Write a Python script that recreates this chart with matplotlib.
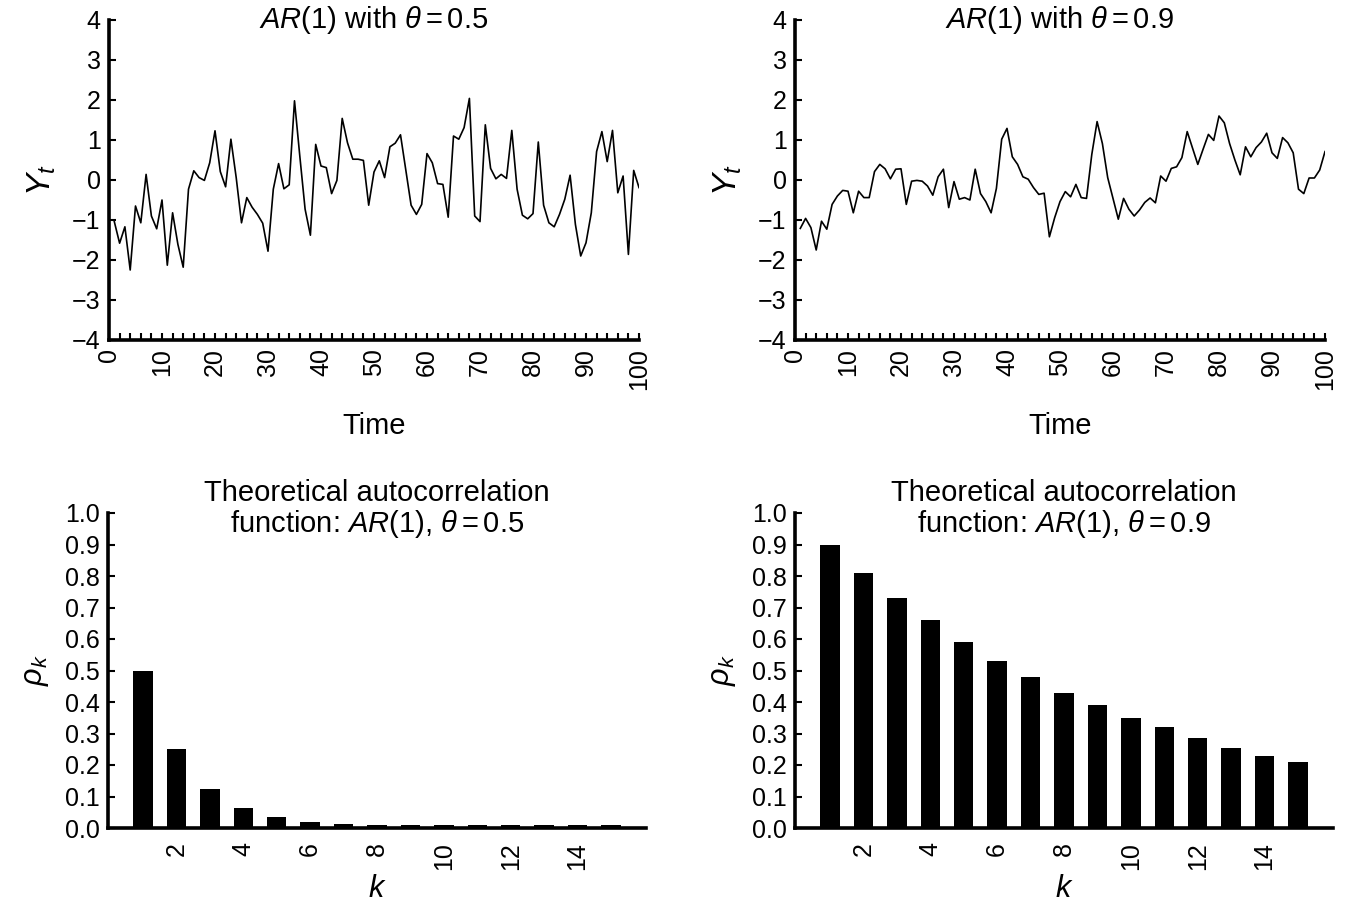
import matplotlib
matplotlib.use("Agg")
import matplotlib.pyplot as plt
import numpy as np

plt.rcParams['font.family'] = ['Liberation Sans', 'DejaVu Sans']
plt.rcParams['mathtext.fontset'] = 'custom'
plt.rcParams['mathtext.rm'] = 'Liberation Sans'
plt.rcParams['mathtext.it'] = 'Liberation Sans:italic'
plt.rcParams['mathtext.bf'] = 'Liberation Sans:bold'

# ---- data ----
time = list(range(1, 101))
y_theta05 = [-1.04, -1.58, -1.17, -2.25, -0.65, -1.07, 0.14, -0.90, -1.22, -0.50,
             -2.13, -0.82, -1.61, -2.18, -0.23, 0.23, 0.06, -0.01, 0.43, 1.23,
             0.21, -0.17, 1.02, 0.06, -1.07, -0.44, -0.68, -0.86, -1.08, -1.78,
             -0.23, 0.41, -0.22, -0.12, 1.98, 0.60, -0.73, -1.38, 0.89, 0.35,
             0.31, -0.34, -0.01, 1.54, 0.93, 0.52, 0.52, 0.49, -0.63, 0.20,
             0.48, 0.06, 0.83, 0.92, 1.13, 0.25, -0.63, -0.86, -0.61, 0.66,
             0.43, -0.09, -0.11, -0.93, 1.10, 1.02, 1.31, 2.04, -0.90, -1.04,
             1.38, 0.29, 0.03, 0.14, 0.04, 1.24, -0.23, -0.88, -0.97, -0.84,
             0.95, -0.63, -1.07, -1.17, -0.86, -0.48, 0.12, -1.11, -1.90, -1.57,
             -0.82, 0.71, 1.21, 0.46, 1.24, -0.32, 0.10, -1.86, 0.24, -0.19]
y_theta09 = [-1.21, -0.96, -1.19, -1.75, -1.03, -1.23, -0.61, -0.40, -0.26, -0.28,
             -0.82, -0.28, -0.44, -0.44, 0.21, 0.39, 0.28, 0.03, 0.27, 0.28,
             -0.61, -0.03, -0.01, -0.03, -0.15, -0.38, 0.08, 0.27, -0.69, -0.04,
             -0.48, -0.44, -0.50, 0.27, -0.34, -0.54, -0.82, -0.21, 1.02, 1.29,
             0.58, 0.39, 0.08, 0.02, -0.19, -0.36, -0.33, -1.42, -0.94, -0.54,
             -0.29, -0.42, -0.11, -0.44, -0.46, 0.64, 1.46, 0.91, 0.06, -0.46,
             -0.98, -0.46, -0.73, -0.90, -0.75, -0.56, -0.45, -0.57, 0.10, -0.03,
             0.29, 0.33, 0.56, 1.21, 0.80, 0.39, 0.77, 1.14, 0.99, 1.60,
             1.43, 0.91, 0.50, 0.13, 0.83, 0.58, 0.81, 0.95, 1.17, 0.68,
             0.54, 1.06, 0.93, 0.68, -0.23, -0.34, 0.05, 0.05, 0.25, 0.71]
lags = list(range(1, 16))
acf_theta05 = [0.50, 0.25, 0.125, 0.0625, 0.034, 0.018, 0.012, 0.008, 0.008, 0.008,
               0.008, 0.008, 0.008, 0.008, 0.008]
acf_theta09 = [0.90, 0.81, 0.73, 0.66, 0.59, 0.53, 0.48, 0.43, 0.39, 0.35,
               0.32, 0.285, 0.255, 0.23, 0.21]
ts_titles = [r"$AR$(1) with $\theta = 0.5$", r"$AR$(1) with $\theta = 0.9$"]
acf_titles = ["Theoretical autocorrelation\nfunction: $AR$(1), $\\theta = 0.5$",
              "Theoretical autocorrelation\nfunction: $AR$(1), $\\theta = 0.9$"]

W, H = 1345, 906
fig = plt.figure(figsize=(W / 100, H / 100), dpi=100)

def frac(x0, y0, x1, y1):
    return [x0 / W, 1 - y1 / H, (x1 - x0) / W, (y1 - y0) / H]

FS = 18      # tick labels
LFS = 21     # titles and axis labels
SPW = 2.6

def style(ax):
    for s in ['top', 'right']:
        ax.spines[s].set_visible(False)
    for s in ['left', 'bottom']:
        ax.spines[s].set_linewidth(SPW)
    ax.tick_params(which='both', direction='in', width=1.5, length=5,
                   labelsize=FS, pad=6)

ts_axes = [fig.add_axes(frac(109, 20, 639, 340)), fig.add_axes(frac(795, 20, 1325, 340))]
for ax, y, title in zip(ts_axes, [y_theta05, y_theta09], ts_titles):
    ax.plot(time, y, color='black', lw=1.2)
    ax.set_xlim(0, 100)
    ax.set_ylim(-4, 4)
    ax.set_yticks(range(-4, 5))
    ax.set_xticks(range(0, 101, 10))
    ax.set_xticks(range(0, 101, 2), minor=True)
    style(ax)
    ax.tick_params(axis='x', labelrotation=90)
    ax.set_xlabel("Time", fontsize=LFS, labelpad=16)
    ax.set_ylabel("$Y_t$", fontsize=24, labelpad=10)
    ax.text(0.5, 1.0, title, transform=ax.transAxes, ha='center', va='center', fontsize=LFS)

acf_axes = [fig.add_axes(frac(108, 513, 646, 828)), fig.add_axes(frac(795, 513, 1333, 828))]
for ax, vals, title in zip(acf_axes, [acf_theta05, acf_theta09], acf_titles):
    ax.bar(lags, vals, width=0.58, color='black')
    ax.set_xlim(-0.05, 16.05)
    ax.set_ylim(0, 1.0)
    ax.set_yticks(np.arange(0, 1.01, 0.1))
    ax.set_yticklabels([f"{v:.1f}" for v in np.arange(0, 1.01, 0.1)])
    ax.set_xticks(range(2, 15, 2))
    style(ax)
    ax.tick_params(axis='x', length=0, labelrotation=90, pad=10)
    ax.set_xlabel("$k$", fontsize=LFS + 1, labelpad=3)
    ax.set_ylabel(r"$\rho_k$", fontsize=LFS + 1, labelpad=10)
    ax.text(0.5, 0.915, title, transform=ax.transAxes, ha='center', va='bottom',
            fontsize=LFS, linespacing=1.05)

fig.savefig("out.png", dpi=100)
